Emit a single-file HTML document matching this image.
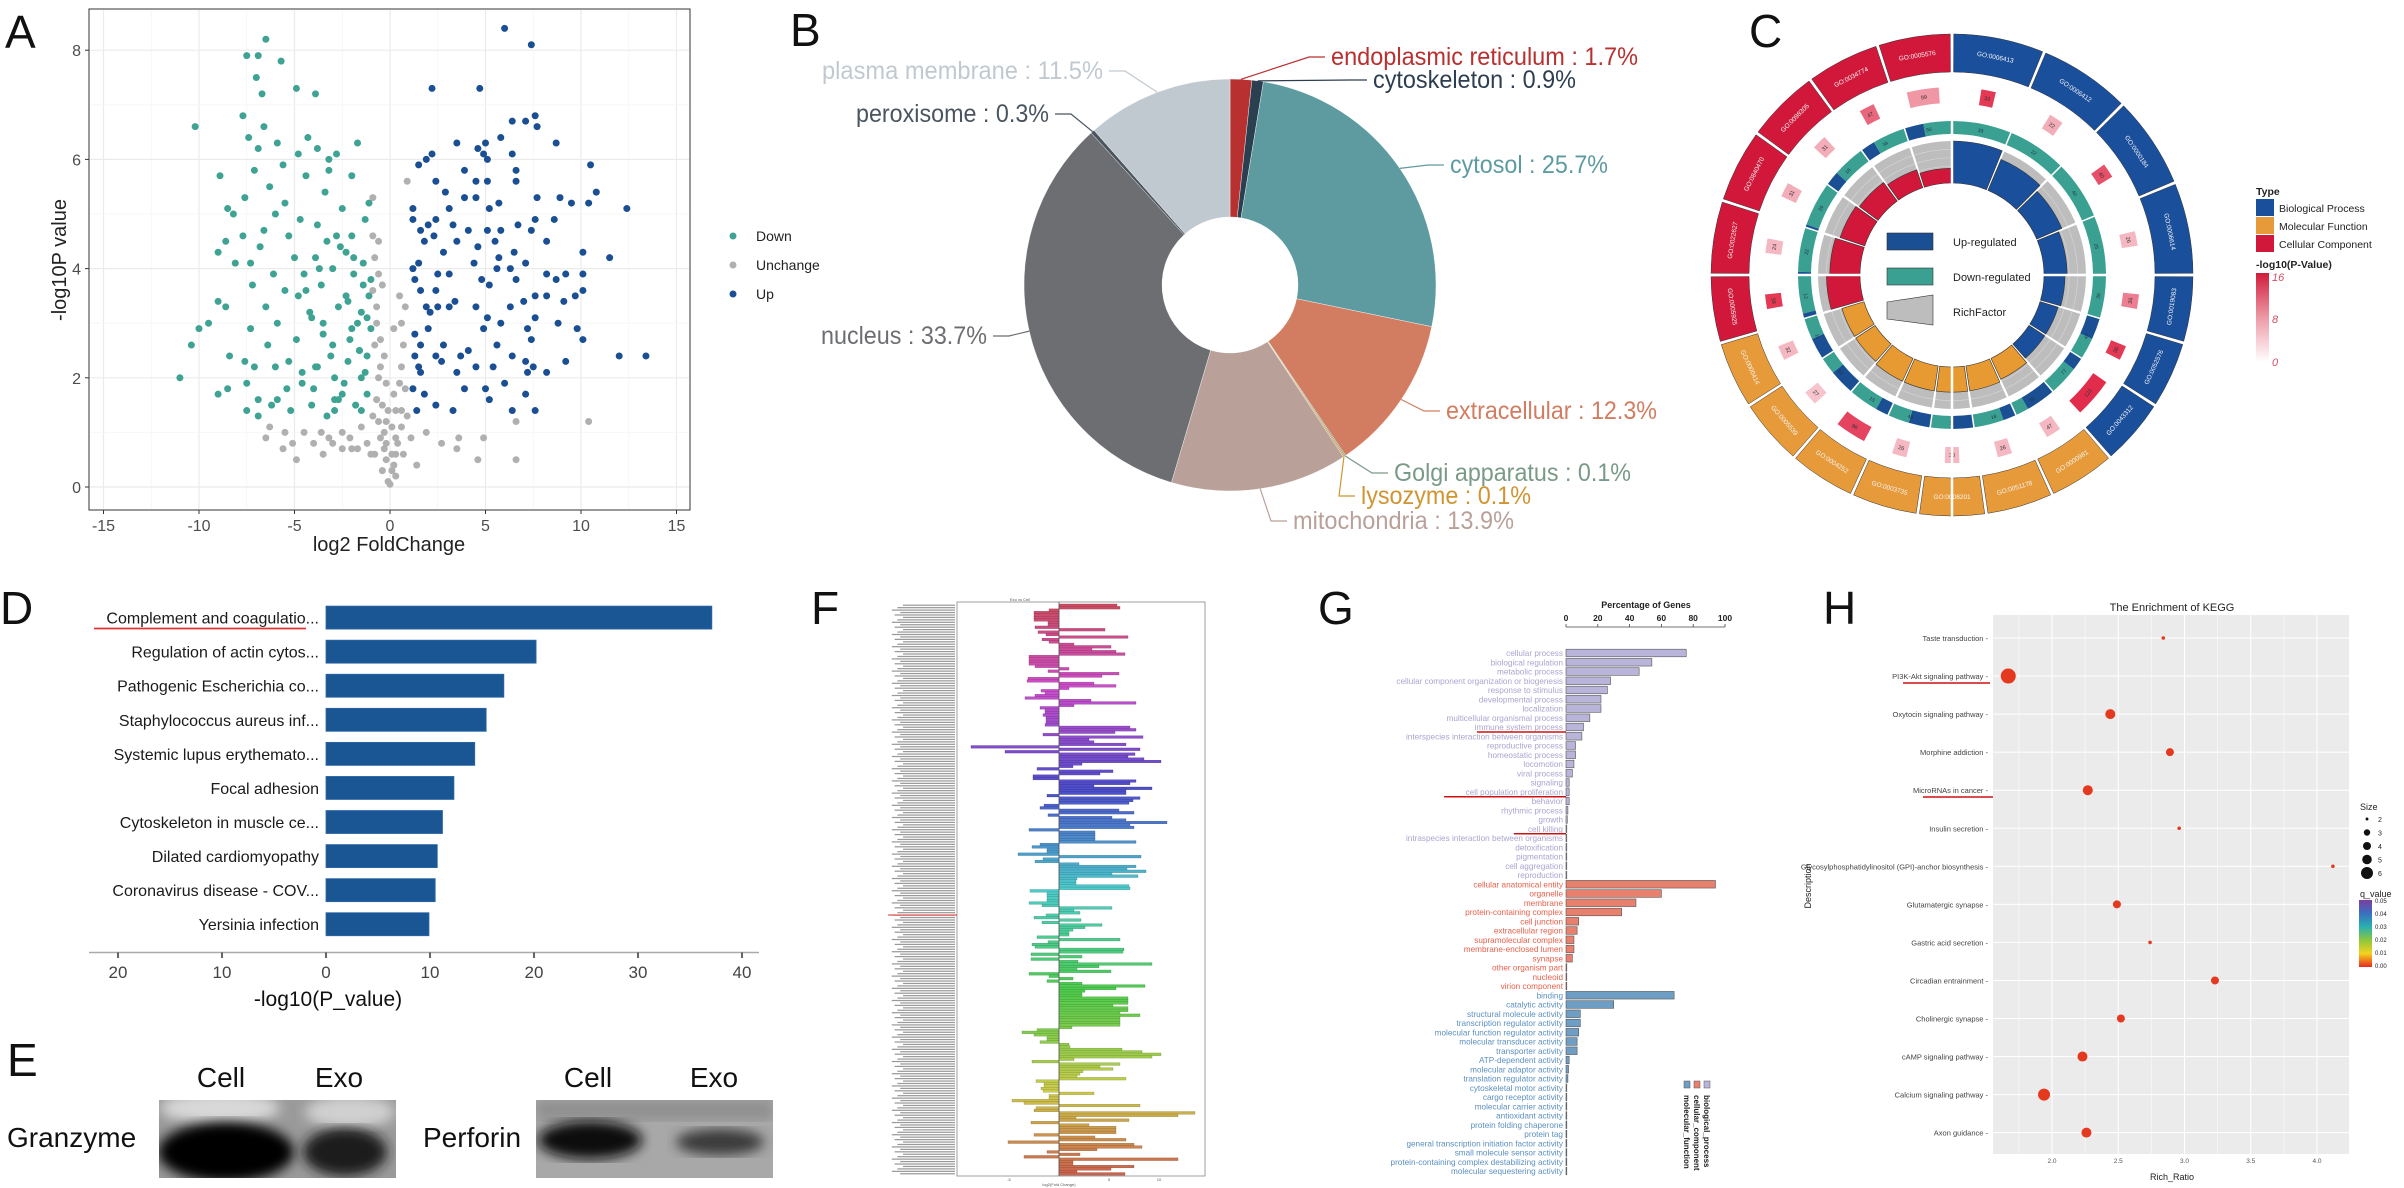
<!DOCTYPE html>
<html><head><meta charset="utf-8">
<style>
html,body{margin:0;padding:0;background:#fff;}
svg{display:block;font-family:"Liberation Sans",Arial,sans-serif;}
</style></head>
<body>
<svg id="fig" width="2404" height="1188" viewBox="0 0 2404 1188" xmlns="http://www.w3.org/2000/svg">
<defs>
  <linearGradient id="pgrad" x1="0" y1="0" x2="0" y2="1"><stop offset="0" stop-color="#d01c3a"/><stop offset="0.5" stop-color="#ec9aa6"/><stop offset="1" stop-color="#ffffff"/></linearGradient>
  <linearGradient id="qgrad" x1="0" y1="0" x2="0" y2="1"><stop offset="0" stop-color="#7b3fa0"/><stop offset="0.2" stop-color="#3a6fc0"/><stop offset="0.4" stop-color="#29b0b0"/><stop offset="0.6" stop-color="#8cc83c"/><stop offset="0.8" stop-color="#f5d21e"/><stop offset="1" stop-color="#e8281e"/></linearGradient>
  <filter id="blur6"><feGaussianBlur stdDeviation="6"/></filter>
  <clipPath id="blot1clip"><rect x="159" y="1100" width="237" height="78"/></clipPath>
  <clipPath id="blot2clip"><rect x="536" y="1100" width="237" height="78"/></clipPath>
</defs>

<g font-size="46" fill="#111">
  <text x="5" y="48">A</text>
  <text x="790" y="46">B</text>
  <text x="1749" y="47">C</text>
  <text x="0" y="624">D</text>
  <text x="7" y="1076">E</text>
  <text x="811" y="624">F</text>
  <text x="1318" y="624">G</text>
  <text x="1823" y="624">H</text>
</g>

<g id="panelA">
  <rect x="89" y="9" width="601" height="501" fill="#fff" stroke="#333" stroke-width="1"/>
  <g id="aGrid"></g>
  <g id="aPts"></g>
  <g id="aTicks" font-size="16" fill="#4d4d4d"></g>
  <text x="389" y="551" font-size="20" text-anchor="middle" fill="#222">log2 FoldChange</text>
  <text transform="translate(66,260) rotate(-90)" font-size="20" text-anchor="middle" fill="#222">-log10P value</text>
  <g font-size="14" fill="#222">
    <circle cx="733" cy="236" r="3.5" fill="#3fa394"/>
    <text x="756" y="241">Down</text>
    <circle cx="733" cy="265" r="3.5" fill="#b0b0b0"/>
    <text x="756" y="270">Unchange</text>
    <circle cx="733" cy="294" r="3.5" fill="#1a4f94"/>
    <text x="756" y="299">Up</text>
  </g>
</g>

<g id="panelB"></g>

<g id="panelC"></g>
<g font-size="11" fill="#222">
  <rect x="1887" y="233" width="46" height="17" fill="#1a4f94" stroke="#333" stroke-width="0.6"/>
  <text x="1953" y="246">Up-regulated</text>
  <rect x="1887" y="268" width="46" height="17" fill="#3aa192" stroke="#333" stroke-width="0.6"/>
  <text x="1953" y="281">Down-regulated</text>
  <polygon points="1887,302 1933,295 1933,325 1887,319" fill="#bdbdbd" stroke="#333" stroke-width="0.6"/>
  <text x="1953" y="316">RichFactor</text>
</g>
<g font-size="10.5" fill="#222">
  <text x="2256" y="195" font-weight="bold">Type</text>
  <rect x="2256" y="199" width="18" height="17" fill="#1a4f9c"/>
  <text x="2279" y="212">Biological Process</text>
  <rect x="2256" y="217" width="18" height="17" fill="#e79a3a"/>
  <text x="2279" y="230">Molecular Function</text>
  <rect x="2256" y="235" width="18" height="17" fill="#d1183a"/>
  <text x="2279" y="248">Cellular Component</text>
  <text x="2256" y="268" font-weight="bold">-log10(P-Value)</text>
  <rect x="2256" y="273" width="13" height="89" fill="url(#pgrad)"/>
  <g font-style="italic" fill="#d0506a" font-size="11">
    <text x="2272" y="281">16</text>
    <text x="2272" y="323">8</text>
    <text x="2272" y="366">0</text>
  </g>
</g>

<g id="panelD"></g>

<g id="panelE">
  <g font-size="28" fill="#111">
    <text x="221" y="1087" text-anchor="middle">Cell</text>
    <text x="339" y="1087" text-anchor="middle">Exo</text>
    <text x="588" y="1087" text-anchor="middle">Cell</text>
    <text x="714" y="1087" text-anchor="middle">Exo</text>
    <text x="7" y="1147">Granzyme</text>
    <text x="423" y="1147">Perforin</text>
  </g>
  <g clip-path="url(#blot1clip)">
    <rect x="159" y="1100" width="237" height="78" fill="#9a9a9a"/>
    <ellipse cx="220" cy="1108" rx="60" ry="16" fill="#d8d8d8" filter="url(#blur6)"/>
    <ellipse cx="350" cy="1112" rx="45" ry="16" fill="#d0d0d0" filter="url(#blur6)"/>
    <ellipse cx="226" cy="1152" rx="68" ry="30" fill="#060606" filter="url(#blur6)"/>
    <ellipse cx="345" cy="1152" rx="42" ry="24" fill="#1a1a1a" filter="url(#blur6)"/>
  </g>
  <g clip-path="url(#blot2clip)">
    <rect x="536" y="1100" width="237" height="78" fill="#a8a8a8"/>
    <rect x="536" y="1100" width="237" height="20" fill="#8f8f8f" filter="url(#blur6)"/>
    <ellipse cx="590" cy="1140" rx="52" ry="19" fill="#080808" filter="url(#blur6)"/>
    <ellipse cx="720" cy="1142" rx="44" ry="13" fill="#3a3a3a" filter="url(#blur6)"/>
  </g>
</g>

<g id="panelF">
  <rect x="957" y="602" width="248" height="574" fill="#fff" stroke="#888" stroke-width="0.8"/>
  <text x="1010" y="601" font-size="4" fill="#555">Exo vs Cell</text>
  <text x="1059" y="1186" font-size="4" fill="#555" text-anchor="middle">log2(Fold Change)</text>
</g>

<g id="panelG">
  <text x="1646" y="608" font-size="9" font-weight="bold" text-anchor="middle" fill="#222">Percentage of Genes</text>
</g>

<g id="panelH">
  <text x="2172" y="611" font-size="11" text-anchor="middle" fill="#222">The Enrichment of KEGG</text>
  <rect x="1993" y="615" width="356" height="539" fill="#ebebeb"/>
  <text x="2172" y="1180" font-size="9" text-anchor="middle" fill="#222">Rich_Ratio</text>
  <text transform="translate(1811,886) rotate(-90)" font-size="9" text-anchor="middle" fill="#222">Description</text>
  <text x="2360" y="810" font-size="9" fill="#222">Size</text>
  <text x="2360" y="897" font-size="9" fill="#222">q_value</text>
  <rect x="2359" y="900" width="13" height="67" fill="url(#qgrad)"/>
</g>
</svg>

<script>
const NS='http://www.w3.org/2000/svg';
function mk(tag,attrs,parent){const e=document.createElementNS(NS,tag);for(const k in attrs)e.setAttribute(k,attrs[k]);parent.appendChild(e);return e;}
function pt(cx,cy,r,a){const t=(a-90)*Math.PI/180;return [cx+r*Math.cos(t),cy+r*Math.sin(t)];}
function sector(cx,cy,r0,r1,a0,a1){const p1=pt(cx,cy,r1,a0),p2=pt(cx,cy,r1,a1),p3=pt(cx,cy,r0,a1),p4=pt(cx,cy,r0,a0);const lg=(a1-a0)>180?1:0;
 return `M${p1} A${r1},${r1} 0 ${lg} 1 ${p2} L${p3} A${r0},${r0} 0 ${lg} 0 ${p4} Z`;}

const downX=[-6.5,-7.5,-6.9,-5.7,-7,-6.7,-4.9,-3.9,-7.7,-10.2,-6.6,-7.4,-4.3,-6.9,-5.9,-3.8,-1.7,-2.8,-3.2,-4.8,-8.9,-7.1,-5.6,-4.4,-3.2,-2,-6.3,-7.6,-5.5,-3.4,-1.1,-8.5,-8.2,-6,-4.7,-2.5,-1.3,-6.6,-5.3,-3.8,-2.8,-2,-7.7,-8.6,-9,-6.8,-5,-3.9,-2.3,-1.4,-8.1,-7.3,-6.1,-4.5,-3,-1.9,-1,-7.2,-5.5,-4.8,-3.6,-2.3,-1.1,-9,-8.6,-6.5,-4.2,-2.7,-1.5,-9.5,-7.3,-5.9,-3.5,-2,-1,-10,-10.4,-6.4,-4.9,-3,-1.6,-8.4,-7.6,-5.3,-3.8,-2.2,-1.2,-11,-7.1,-6,-4.6,-2.9,-1.5,-7.5,-5.4,-4,-2.5,-1.2,-9,-8.5,-6.9,-5.9,-6.2,-4.1,-2.9,-1.8,-7.5,-5.2,-3.3,-1.5,-6.9,-3.3,-2.6,-1.9,-1.4,-4.1,-3.5,-2.1,-1.7,-3.1,-2.4,-1.3,-4.4,-3.7,-2.2,-1.6,-2.9,-4.6,-1.2,-3.9,-2.7];
const downY=[8.2,7.9,7.9,7.8,7.5,7.2,7.3,7.2,6.8,6.6,6.6,6.4,6.4,6.2,6.3,6.2,6.3,6.1,6,6.1,5.7,5.8,5.9,5.7,5.8,5.7,5.5,5.3,5.2,5.4,5.2,5.1,5,5,4.9,5.1,4.9,4.7,4.6,4.8,4.6,4.6,4.6,4.5,4.3,4.4,4.2,4.2,4.3,4.1,4.1,4.1,3.9,3.9,4,3.9,3.8,3.7,3.6,3.5,3.7,3.5,3.5,3.4,3.3,3.3,3.2,3.3,3.2,3,2.9,3,3,2.9,2.9,2.9,2.6,2.6,2.7,2.6,2.5,2.4,2.3,2.3,2.2,2.3,2.4,2,2.2,2.2,2.1,2,2,1.9,1.8,1.8,1.7,1.7,1.7,1.8,1.6,1.6,1.5,1.5,1.4,1.5,1.4,1.4,1.3,1.4,1.3,4.5,4.4,4.2,3.7,3.1,2.8,2.7,3.0,2.4,1.9,2.1,3.6,4.0,3.4,2.5,1.6,1.9,3.1,2.2,1.6];
const upX=[6,7.4,2.2,4.7,7.6,6.4,7.1,7.7,5.8,3.5,4.6,5,8.7,4.9,6.4,1.9,2.2,5.1,1.5,3.9,10.5,6.6,4.5,2.4,5.1,6.6,2.9,10.8,3.9,4.5,7.7,8.9,9.5,10.4,5.2,5.7,1.2,12.4,3.1,2.4,7.6,8.6,1.2,2,3.3,5.1,6.7,1.6,4.1,5.8,7.4,2.3,1.8,3.5,5.5,8.2,4.6,6.5,10.1,11.5,1.5,2.8,4.4,5.7,7.1,1.2,5.6,6.3,8.2,9.2,10.1,2.5,3.1,1.3,4.8,6.6,8.7,1.6,2.4,5.2,7.6,8.2,9.1,9.7,10.1,3.4,2.5,1.9,6.3,7,2.1,3.1,4.5,7.6,5.8,8.8,5.1,2,1.3,4.9,9.8,7.2,1.6,2.8,10.1,5.6,7.4,4.1,1.3,2.4,3.7,6.4,12,13.4,9.2,1.5,2.7,4.5,5.4,7.1,7.5,1.6,3.5,8.2,7.2,3.9,6,5,1.2,1.8,5.2,7.1,2.4,3.3,1.4,7.6,6.4];
const upY=[8.4,8.1,7.3,7.3,6.8,6.7,6.7,6.6,6.4,6.3,6.2,6.3,6.3,6.1,6.1,6,6.1,6,5.9,5.8,5.9,5.8,5.6,5.6,5.6,5.6,5.4,5.4,5.3,5.3,5.3,5.3,5.2,5.2,5.1,5.2,5.1,5.1,5.1,4.9,4.9,4.9,4.9,4.8,4.8,4.7,4.8,4.7,4.7,4.7,4.7,4.6,4.5,4.5,4.5,4.5,4.4,4.3,4.3,4.2,4.1,4.3,4.1,4.2,4.1,4,4,4,3.9,3.9,3.9,3.9,3.9,3.8,3.8,3.8,3.8,3.6,3.6,3.7,3.5,3.5,3.4,3.5,3.6,3.4,3.3,3.3,3.3,3.4,3.2,3.3,3.3,3.1,3,3,3.1,2.9,2.8,2.9,2.9,2.9,2.6,2.6,2.7,2.6,2.7,2.5,2.4,2.4,2.4,2.4,2.4,2.4,2.3,2.2,2.3,2.2,2.2,2.3,2.2,2.1,2.1,2.1,2.1,1.8,1.9,1.8,1.8,1.7,1.6,1.7,1.5,1.4,1.4,1.4,1.4];
const unchX=[0.9,-0.9,-0.9,-0.6,-0.8,-0.6,-0.9,-0.4,0.5,0.8,-0.7,0.6,-0.5,-0.8,-0.3,0.7,0.6,-0.6,-0.2,0.5,0.8,-0.7,-0.4,0.3,0.6,-0.9,-0.2,0.1,0.6,-1.5,-2.5,-3.6,-4.5,-5.5,-6.3,-6.5,-5.1,-4,-3,-2.1,-1.2,-0.5,0.3,1.1,1.9,2.7,3.6,3.5,4.9,6.6,10.4,-5.6,-4.9,-3.5,-2.5,-1.7,-0.8,-0.2,0.3,0.7,4.6,6.6,-0.4,0.1,0.3,-0.1,0,0.2,-0.3,-0.1,0.2,-0.5,-0.7,-0.3,0.4,-0.6,0.1,-1.0,-2.0,-3.2,0.9,1.4,-0.2,0.2];
const unchY=[5.6,5.3,4.6,4.5,4.2,3.9,3.6,3.7,3.5,3.3,3,3,2.7,2.6,2.4,2.6,2.2,2,1.9,1.9,1.8,1.6,1.5,1.4,1.4,1.3,1.2,1.1,1.1,1.1,1,1,1,1,1.1,0.9,0.8,0.8,0.8,0.9,0.8,0.9,0.9,0.9,1,0.8,0.9,0.7,0.9,1.2,1.2,0.7,0.5,0.6,0.7,0.7,0.6,0.5,0.6,0.6,0.5,0.5,0.3,0.3,0.2,0.1,0.05,0.4,0.7,1.4,1.7,2.2,3.3,1.0,0.8,1.2,0.6,0.6,0.7,0.9,1.3,0.4,0.8,2.9];
const aXTicks=[-15,-10,-5,0,5,10,15];
const aYTicks=[0,2,4,6,8];
const pieNames=['endoplasmic reticulum','cytoskeleton','cytosol','extracellular','Golgi apparatus','lysozyme','mitochondria','nucleus','peroxisome','plasma membrane'];
const pieValues=[1.7,0.9,25.7,12.3,0.1,0.1,13.9,33.7,0.3,11.5];
const goIds=['GO:0006413','GO:0006412','GO:0000184','GO:0006614','GO:0019083','GO:0052576','GO:0043312','GO:0000981','GO:0051178','GO:0008201','GO:0003735','GO:0004252','GO:0005539','GO:0000414','GO:0005925','GO:0022627','GO:0840470','GO:0098305','GO:0034774','GO:0005576'];
const goTypes=['BP','BP','BP','BP','BP','BP','BP','MF','MF','MF','MF','MF','MF','MF','CC','CC','CC','CC','CC','CC'];
const goSpan=[22.5,22.5,22.5,22.5,16.36,16.36,16.36,16.36,16.36,16.36,16.36,16.36,16.36,16.36,16.4,18,18,18,18,18];
const goPval=[14,4,12,3,8,14,15,3,3,3,3,13,2,3,14,3,4,4,10,6];
const goPnum=[33,22,40,26,36,36,122,47,26,30,26,96,27,32,38,24,31,31,47,99];
const goUpFrac=[0,0,0,0,0,0.5,0.3,0.7,0.3,0.5,0.5,0.3,0.6,0.5,0.1,0.05,0.05,0.3,0.3,0.4];
const goCount=[33,22,40,25,36,47,77,55,18,12,48,15,10,11,12,22,26,16,34,56];
const goRich=[1,0.8,0.65,0.55,0.5,0.45,0.45,0.55,0.6,0.6,0.6,0.6,0.55,0.55,0.8,0.72,0.62,0.55,0.45,0.35];
const dTerms=['Complement and coagulatio...','Regulation of actin cytos...','Pathogenic Escherichia co...','Staphylococcus aureus inf...','Systemic lupus erythemato...','Focal adhesion','Cytoskeleton in muscle ce...','Dilated cardiomyopathy','Coronavirus disease - COV...','Yersinia infection'];
const dValues=[37.1,20.2,17.1,15.4,14.3,12.3,11.2,10.7,10.5,9.9];
const dTickVals=[-20,-10,0,10,20,30,40];
const dTickLabels=['20','10','0','10','20','30','40'];
const fValues=[5.8,6.1,-1,-2.5,-2.5,-2.5,-2.5,-1.1,-1.1,-2.4,4.6,-2.1,-1.3,6.9,-1.7,-1,1.5,5.2,3.3,5.7,6.6,-3,-3,-3,-3,-2.4,1,-1.1,6,4.3,-3.1,-3.2,3.5,5.7,1,-1.8,-1.4,-2.4,-3.4,3.2,7.7,1.5,-1.9,-1.4,-1.4,-1.6,-1.3,-1.3,-1.3,-1.4,7.1,7.7,5.6,-1.6,8.4,3,3.5,6.7,-8.8,8.1,-5.4,7.6,6.9,8.5,10.2,2.3,1.4,-2.2,5.4,4.1,-2.6,-2.6,7.7,7.1,3.5,9.3,6.7,6.7,-1.2,8.1,7.4,7,-1.5,-1.9,6,7.5,-1.1,5.3,6.7,10.8,7.1,7.5,-3,3.6,3.6,3.6,3.6,7.7,-1.9,-2.7,-1.2,-1.2,-4.1,8.2,-1.6,-2.4,2,7.7,6.8,8.7,5.3,7.9,1.8,1.7,1.7,7,7.1,-2.9,-1.2,-1.2,-1.2,-1.2,-3,-1.7,5.3,1.5,2.1,-1.3,-2.5,2.2,-1.7,4.3,2.6,1.4,1,1,-2.2,6.1,-1.1,-2.7,-2.4,6.5,6.4,-2.8,2.3,-2.8,1.9,9.3,4,1.8,5.2,-3,-1,1.4,-1.2,2.3,8.6,5.7,2.6,2.3,2.3,6.9,6.9,6.9,5.4,6.9,6.9,6.1,8.1,6.1,6.1,6.1,6.1,1.3,-2.2,-3.7,-2.5,-1.2,-1.2,-1.9,1,1.1,6.3,8.3,10.2,9.3,1.5,-2.7,6.1,4.1,5.4,2.4,2.1,1.8,6.7,-2.3,-1.5,-1.5,-1.8,-1.6,3.5,-1,-1,-4.7,-3.5,8.1,-2.3,-2.5,13.6,11.9,1.7,7,-2.8,3,5.7,5.7,5.7,-2.5,3.6,6.7,-5.1,7.5,8.3,3.8,-1.2,2.1,-3.5,11.9,1.4,1.4,7.5,5.2,1.8,6.6];
const fTicks=[-5,5,10];
const gTerms=['cellular process','biological regulation','metabolic process','cellular component organization or biogenesis','response to stimulus','developmental process','localization','multicellular organismal process','immune system process','interspecies interaction between organisms','reproductive process','homeostatic process','locomotion','viral process','signaling','cell population proliferation','behavior','rhythmic process','growth','cell killing','intraspecies interaction between organisms','detoxification','pigmentation','cell aggregation','reproduction',
'cellular anatomical entity','organelle','membrane','protein-containing complex','cell junction','extracellular region','supramolecular complex','membrane-enclosed lumen','synapse','other organism part','nucleoid','virion component',
'binding','catalytic activity','structural molecule activity','transcription regulator activity','molecular function regulator activity','molecular transducer activity','transporter activity','ATP-dependent activity','molecular adaptor activity','translation regulator activity','cytoskeletal motor activity','cargo receptor activity','molecular carrier activity','antioxidant activity','protein folding chaperone','protein tag','general transcription initiation factor activity','small molecule sensor activity','protein-containing complex destabilizing activity','molecular sequestering activity'];
const gValues=[75.6,54,46,28,26,22,22,15,11,10,6,6,5,4,2,2,2,1.2,0.8,0.5,0.5,0.5,0.5,0.5,0.5,
94,60,44,35,8,7,5,5,4,0.5,0.5,0.5,
68,30,9,9,8,7,7,2,1.6,1.2,0.5,0.5,0.5,0.5,0.5,0.5,0.5,0.5,0.5,0.5];
const gGroupSizes=[25,12,20];
const gTickVals=[0,20,40,60,80,100];
const gUnderlined=['immune system process','cell population proliferation','cell killing'];
const hTerms=['Taste transduction','PI3K-Akt signaling pathway','Oxytocin signaling pathway','Morphine addiction','MicroRNAs in cancer','Insulin secretion','Glycosylphosphatidylinositol (GPI)-anchor biosynthesis','Glutamatergic synapse','Gastric acid secretion','Circadian entrainment','Cholinergic synapse','cAMP signaling pathway','Calcium signaling pathway','Axon guidance'];
const hRatio=[2.84,1.67,2.44,2.89,2.27,2.96,4.12,2.49,2.74,3.23,2.52,2.23,1.94,2.26];
const hSize=[2,6,4,3,4,2,2,3,2,3,3,4,5,4];
const hTicks=[2.0,2.5,3.0,3.5,4.0];
const hSizeLegend=[2,3,4,5,6];
const hQTicks=['0.05','0.04','0.03','0.02','0.01','0.00'];

(function(){
 const ax=v=>390+v*19.1, ay=v=>487-v*54.6;
 const grid=document.getElementById('aGrid'), pts=document.getElementById('aPts'), tk=document.getElementById('aTicks');
 for(let v=-17.5;v<=17.5;v+=2.5){const X=ax(v);if(X<90||X>689)continue;const major=Math.abs(v%5)<1e-6;
  const l=mk('line',{x1:X,y1:10,x2:X,y2:509,stroke:major?'#ebebeb':'#f5f5f5','stroke-width':major?1.2:0.8},grid);
  
  }
 for(let v=-1;v<=9;v+=1){const Y=ay(v);if(Y<10||Y>509)continue;const major=v%2===0;
  const l=mk('line',{x1:90,y1:Y,x2:689,y2:Y,stroke:major?'#ebebeb':'#f5f5f5','stroke-width':major?1.2:0.8},grid);
  
  }
 function dots(xs,ys,col,name){for(let i=0;i<xs.length;i++){const c=mk('circle',{cx:ax(xs[i]),cy:ay(ys[i]),r:3.5,fill:col},pts);
  
  }}
 dots(unchX,unchY,'#b0b0b0','unchanged-point');
 dots(downX,downY,'#3fa394','down-point');
 dots(upX,upY,'#1a4f94','up-point');
 aXTicks.forEach(v=>{const t=mk('text',{x:ax(v),y:531,'text-anchor':'middle'},tk);t.textContent=v;
  
  
  const m=mk('line',{x1:ax(v),y1:510,x2:ax(v),y2:514,stroke:'#333'},tk);
  
  });
 aYTicks.forEach(v=>{const t=mk('text',{x:81,y:ay(v)+6,'text-anchor':'end'},tk);t.textContent=v;
  
  
  const m=mk('line',{x1:85,y1:ay(v),x2:89,y2:ay(v),stroke:'#333'},tk);
  
  });
})();

(function(){
 const g=document.getElementById('panelB');
 const cx=1230,cy=285,R=206,r=68;
 const cols=['#b8302f','#2a3f50','#5e9ba1','#d27d61','#7a9a88','#d09530','#b9a19a','#6d6e72','#4a5560','#c1c9d0'];
 const labelCols=['#b8302f','#2d3e50','#5e9ba1','#d27d61','#7a9a88','#d09530','#b9a19a','#6d6e72','#4a5560','#c1c9d0'];
 const lab=[[1331,65,307],[1373,88,203],[1450,173,158],[1446,419,211],[1394,481,237],[1361,504,170],[1293,529,221],[821,344,166],[856,122,193],[822,79,281]];
 const total=pieValues.reduce((a,b)=>a+b,0);
 let a=0;
 pieValues.forEach((v,i)=>{const span=v/total*360;const p=mk('path',{d:sector(cx,cy,r,R,a,a+span),fill:cols[i],stroke:'#fff','stroke-width':0.4},g);
  
  
  const mid=a+span/2;const e=pt(cx,cy,R,mid);const L=lab[i];const right=L[0]>cx;
  const lx=right?L[0]-6:L[0]+L[2]+6, ly=L[1]-8;
  const kx=right?lx-16:lx+16;
  const ln=mk('polyline',{points:`${e[0]},${e[1]} ${kx},${ly} ${lx},${ly}`,fill:'none',stroke:labelCols[i],'stroke-width':1.2},g);
  
  
  const t=mk('text',{x:L[0],y:L[1],'font-size':25,fill:labelCols[i],textLength:L[2],lengthAdjust:'spacingAndGlyphs'},g);
  t.textContent=pieNames[i]+' : '+v+'%';
  
  
  a+=span;});
})();

(function(){
 const g=document.getElementById('panelC');
 const cx=1952,cy=275;
 const tc={BP:'#1a4f9c',MF:'#e79a3a',CC:'#d1183a'};
 const rich={BP:'#1a4f9c',MF:'#e89a32',CC:'#d1183a'};
 let a=0;
 goIds.forEach((id,i)=>{const s=goSpan[i],a0=a,a1=a+s,m=a+s/2;
  const o=mk('path',{d:sector(cx,cy,203,241,a0+0.4,a1-0.4),fill:tc[goTypes[i]],stroke:'#333','stroke-width':0.5},g);
  
  
  const lp=pt(cx,cy,222,m);const rot=(m>90&&m<270)?m+180:m;
  const t=mk('text',{x:lp[0],y:lp[1]+2,'font-size':6.5,fill:'#f4f4f4','text-anchor':'middle',transform:`rotate(${rot} ${lp[0]} ${lp[1]})`},g);
  t.textContent=id;
  
  
  const pv=goPval[i];const w=Math.min(s-4,Math.max(4.5,goPnum[i]/10));
  const lightness=92-pv*2.6;
  const pb=mk('path',{d:sector(cx,cy,172,188,m-w/2,m+w/2),fill:`hsl(350,75%,${lightness}%)`},g);
  
  
  const pp=pt(cx,cy,180,m);
  const pt2=mk('text',{x:pp[0],y:pp[1]+2,'font-size':5.5,fill:'#333','text-anchor':'middle',transform:`rotate(${rot} ${pp[0]} ${pp[1]})`},g);
  pt2.textContent=goPnum[i];
  
  
  const up=goUpFrac[i];const mid=a0+0.3+(s-0.6)*up;
  if(up>0){const u=mk('path',{d:sector(cx,cy,141,154,a0+0.3,mid),fill:'#1a4f94'},g);
   
   }
  const d=mk('path',{d:sector(cx,cy,141,154,mid,a1-0.3),fill:'#3aa192'},g);
  
  
  const cp=pt(cx,cy,147.5,m);
  const ct=mk('text',{x:cp[0],y:cp[1]+2,'font-size':5,fill:'#234','text-anchor':'middle',transform:`rotate(${rot} ${cp[0]} ${cp[1]})`},g);
  ct.textContent=goCount[i];
  
  
  const bg=mk('path',{d:sector(cx,cy,92,134,a0+0.5,a1-0.5),fill:'#bdbdbd'},g);
  
  
  for(let k=1;k<5;k++){const rr=92+k*8.4;const c=mk('path',{d:`M${pt(cx,cy,rr,a0+0.5)} A${rr},${rr} 0 0 1 ${pt(cx,cy,rr,a1-0.5)}`,fill:'none',stroke:'#d4d4d4','stroke-width':0.7},g);
   
   }
  const rb=mk('path',{d:sector(cx,cy,92,92+42*goRich[i],a0+0.5,a1-0.5),fill:rich[goTypes[i]],stroke:'#333','stroke-width':0.6},g);
  
  
  a=a1;});
 [0,90,180,270].forEach(s=>{const p0=pt(cx,cy,88,s),p1=pt(cx,cy,243,s);const l=mk('line',{x1:p0[0],y1:p0[1],x2:p1[0],y2:p1[1],stroke:'#fff','stroke-width':2.5},g);
  
  });
})();

(function(){
 const g=document.getElementById('panelD');
 const dx=v=>326+v*10.4, rowY=i=>617.6+i*34.07;
 dTerms.forEach((t,i)=>{const b=mk('rect',{x:dx(0),y:rowY(i)-11.5,width:dx(dValues[i])-dx(0),height:23,fill:'#1b5694',stroke:'#2c67a6','stroke-width':0.8},g);
  
  
  const tx=mk('text',{x:319,y:rowY(i)+6,'font-size':16,'text-anchor':'end',fill:'#1a1a1a'},g);tx.textContent=t;
  
  });
 const ul=mk('line',{x1:94,y1:628.5,x2:306,y2:628.5,stroke:'#e03030','stroke-width':1.8},g);
 
 
 const ax=mk('line',{x1:89,y1:952.5,x2:759,y2:952.5,stroke:'#aaa','stroke-width':1.6},g);
 
 
 dTickVals.forEach((v,i)=>{const t=mk('line',{x1:dx(v),y1:952.5,x2:dx(v),y2:958,stroke:'#333','stroke-width':1.5},g);
  
  
  const l=mk('text',{x:dx(v),y:978,'font-size':17,'text-anchor':'middle',fill:'#444'},g);l.textContent=dTickLabels[i];
  
  });
 const tt=mk('text',{x:328,y:1006,'font-size':21,'text-anchor':'middle',fill:'#111'},g);tt.textContent='-log10(P_value)';
 
 
})();

(function(){
 const g=document.getElementById('panelF');
 const fx=v=>1059+v*10, n=fValues.length, y0=604, y1=1175, h=(y1-y0)/n;
 for(let i=0;i<n;i++){const w=52+((i*7)%5)*2.8;
  const lr=mk('rect',{x:955-w,y:y0+i*h+0.6,width:w,height:Math.max(0.8,h-1.2),fill:'#9a9a9a'},g);
  
  }
 fValues.forEach((v,i)=>{const hue=(350-i/(n-1)*340+360)%360;
  const x=v>=0?fx(0):fx(v);
  const b=mk('rect',{x:x,y:y0+i*h,width:Math.abs(fx(v)-fx(0)),height:h+0.2,fill:`hsl(${hue},55%,55%)`,stroke:`hsl(${hue},50%,35%)`,'stroke-width':0.3},g);
  
  });
 const z=mk('line',{x1:fx(0),y1:602,x2:fx(0),y2:1176,stroke:'#555','stroke-width':0.8},g);
 
 
 const red=mk('line',{x1:888,y1:915,x2:957,y2:915,stroke:'#e03030','stroke-width':1},g);
 
 
 fTicks.forEach(v=>{const t=mk('text',{x:fx(v),y:1181,'font-size':4,'text-anchor':'middle',fill:'#555'},g);t.textContent=v;
  
  });
})();

(function(){
 const g=document.getElementById('panelG');
 const gx=v=>1566+v*1.59, rowY=i=>653+i*9.25;
 const fills=['#b9b5da','#e8806e','#6f9ec5'], labs=['#a9a5d0','#e8604a','#5b8fc0'];
 const ax=mk('line',{x1:gx(0),y1:627,x2:gx(100),y2:627,stroke:'#444','stroke-width':0.8},g);
 
 
 gTickVals.forEach(v=>{const l=mk('text',{x:gx(v),y:621,'font-size':8.5,'font-weight':'bold','text-anchor':'middle',fill:'#222'},g);l.textContent=v;
  
  
  const t=mk('line',{x1:gx(v),y1:624,x2:gx(v),y2:627,stroke:'#444','stroke-width':0.8},g);
  
  });
 let grp=0,cnt=0;
 gTerms.forEach((t,i)=>{if(cnt>=gGroupSizes[grp]){grp++;cnt=0;}cnt++;
  const b=mk('rect',{x:gx(0),y:rowY(i)-3.8,width:Math.max(0.8,gx(gValues[i])-gx(0)),height:7.6,fill:fills[grp],stroke:'#555','stroke-width':0.6},g);
  
  
  const l=mk('text',{x:1563,y:rowY(i)+3,'font-size':8.2,'text-anchor':'end',fill:labs[grp]},g);l.textContent=t;
  
  
  if(gUnderlined.indexOf(t)>=0){const w=t.length*4.1;const u=mk('line',{x1:1563-w,y1:rowY(i)+5,x2:1566,y2:rowY(i)+5,stroke:'#d01010','stroke-width':1.5},g);
   
   }});
 const names=['molecular_function','cellular_component','biological_process'];
 names.forEach((nm,k)=>{const x=1687+k*10;
  const s=mk('rect',{x:x-3,y:1081,width:6,height:7,fill:fills[2-k],stroke:'#555','stroke-width':0.5},g);
  
  
  const t=mk('text',{x:x-3,y:1095,'font-size':8,'font-weight':'bold',fill:'#222',transform:`rotate(90 ${x-3} 1095)`},g);t.textContent=nm;
  
  });
})();

(function(){
 const g=document.getElementById('panelH');
 const hx=v=>2052+(v-2)*132.5, rowY=i=>638+i*38.05;
 const rs={2:1.8,3:4,4:5,5:6,6:7.5};
 for(let v=1.75;v<=4.25;v+=0.25){const X=hx(v);if(X<1994||X>2348)continue;const major=Math.abs((v*2)%1)<1e-6;
  const l=mk('line',{x1:X,y1:615,x2:X,y2:1154,stroke:'#fff','stroke-width':major?1:0.5},g);
  
  }
 hTerms.forEach((t,i)=>{const Y=rowY(i);
  const l=mk('line',{x1:1993,y1:Y,x2:2349,y2:Y,stroke:'#fff','stroke-width':1},g);
  
  
  const lb=mk('text',{x:1988,y:Y+3,'font-size':7.5,'text-anchor':'end',fill:'#444'},g);lb.textContent=t+' -';
  
  });
 hTerms.forEach((t,i)=>{const c=mk('circle',{cx:hx(hRatio[i]),cy:rowY(i),r:rs[hSize[i]],fill:'#e5391f'},g);
  
  });
 [[1903,1990,683],[1923,1993,797]].forEach(u=>{const l=mk('line',{x1:u[0],y1:u[2],x2:u[1],y2:u[2],stroke:'#d01010','stroke-width':1.5},g);
  
  });
 hTicks.forEach(v=>{const l=mk('text',{x:hx(v),y:1163,'font-size':6.5,'text-anchor':'middle',fill:'#555'},g);l.textContent=v.toFixed(1);
  
  });
 hSizeLegend.forEach((s,k)=>{const Y=819+k*13.5;
  const c=mk('circle',{cx:2367,cy:Y,r:rs[s]*0.8,fill:'#111'},g);
  
  
  const t=mk('text',{x:2378,y:Y+3,'font-size':7,fill:'#222'},g);t.textContent=s;
  
  });
 hQTicks.forEach((q,k)=>{const t=mk('text',{x:2375,y:903+k*13,'font-size':6,fill:'#222'},g);t.textContent=q;
  
  });
})();
</script>
</body></html>
